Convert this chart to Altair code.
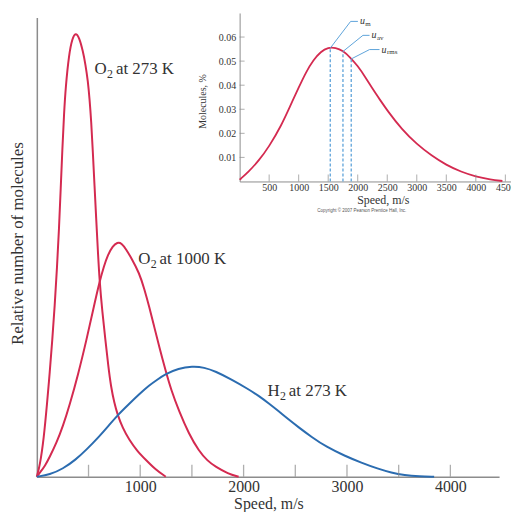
import altair as alt
import pandas as pd

FONT = "Liberation Serif"
RED = "#d42a50"
BLUE = "#2b6cb0"
LIGHT_BLUE = "#5ea3da"
AXIS_GRAY = "#8c8c8c"
TEXT = "#333333"

# ---------------- main chart data (speed m/s, relative number, arbitrary units)
O2_273_SPEED = [0, 29, 67, 100, 125, 150, 173, 195, 215, 231, 247, 263, 279, 311, 343,
                375, 410, 446, 470, 494, 510, 526, 542, 558, 574, 590, 606, 634, 663,
                690, 718, 750, 779, 830, 894, 970, 1054, 1150, 1247]
O2_273_VALUE = [0, 11, 38, 75, 105, 138, 172, 210, 250, 290, 330, 365, 392, 425, 441,
                447, 442, 428, 415, 398, 380, 358, 326, 293, 260, 228, 198, 165, 138,
                112, 90, 74, 63, 49, 37, 26, 17, 7, 0]

O2_1000_SPEED = [0, 29, 80, 125, 190, 253, 317, 400, 481, 545, 606, 650, 686, 734, 779,
                 820, 862, 920, 990, 1040, 1087, 1135, 1183, 1247, 1300, 1375, 1471,
                 1567, 1650, 1728, 1850, 1952]
O2_1000_VALUE = [0, 4, 11, 20, 34, 51, 72, 103, 138, 168, 196, 212, 223, 232, 236,
                 235, 229, 219, 205, 189, 171, 151, 131, 106, 87, 66, 43,
                 26, 16, 10, 3, 0]

H2_273_SPEED = [0, 125, 253, 375, 478, 600, 700, 782, 880, 990, 1087, 1170, 1240, 1370,
                1503, 1620, 1728, 1880, 2048, 2150, 2240, 2337, 2430, 2529, 2657, 2800,
                2978, 3140, 3298, 3430, 3555, 3700, 3843]
H2_273_VALUE = [0, 2, 8, 17, 27, 40, 52, 62, 72, 83, 92, 98, 103, 109,
                111, 110, 106, 98, 88, 81, 74, 66, 58, 50, 40, 30,
                21, 14, 8, 4, 1.5, 0.4, 0]

SERIES = ["O2 at 273 K", "O2 at 1000 K", "H2 at 273 K"]
MAIN_TICKS = [500, 1000, 1500, 2000, 2500, 3000, 3500, 4000]
MAIN_LABELS = [1000, 2000, 3000, 4000]

# curve labels: base letter, subscript, remainder, anchor (speed, value)
LABEL_BASE = ["O", "O", "H"]
LABEL_SUB = ["2", "2", "2"]
LABEL_REST = ["at 273 K", "at 1000 K", "at 273 K"]
LABEL_SPEED = [558, 981, 2231]
LABEL_VALUE = [410, 219, 86]

# ---------------- inset data (H2 at 273 K, speed m/s, molecules %)
INSET_SPEED = [0, 150, 320, 500, 712, 850, 1000, 1125, 1250, 1375, 1500, 1625, 1750,
               1875, 2000, 2125, 2250, 2375, 2500, 2750, 3000, 3250, 3500, 3750, 4000,
               4250, 4450]
INSET_PCT = [0.0007, 0.0040, 0.0085, 0.0145, 0.0235, 0.0310, 0.0390, 0.0455, 0.0505,
             0.0540, 0.0557, 0.0556, 0.0543, 0.0515, 0.0480, 0.0435, 0.0385, 0.0340,
             0.0295, 0.0215, 0.0155, 0.0107, 0.0068, 0.0040, 0.0020, 0.0008, 0.0002]
INSET_XTICKS = [500, 1000, 1500, 2000, 2500, 3000, 3500, 4000, 4500]
INSET_YTICKS = [0.01, 0.02, 0.03, 0.04, 0.05, 0.06]

U_NAMES = ["m", "av", "rms"]
U_SPEED = [1535, 1750, 1890]
U_TOP = [0.0554, 0.0540, 0.0509]
# leader lines: start (on curve) -> elbow -> end
LEAD_SPEED = [[1535, 1880, 2003], [1750, 2088, 2200], [1890, 2200, 2369]]
LEAD_PCT = [[0.0554, 0.0665, 0.0665], [0.0540, 0.0607, 0.0607], [0.0509, 0.0548, 0.0548]]

COPYRIGHT = "Copyright \u00a9 2007 Pearson Prentice Hall, Inc."

# ---------------- frames
rows = []
for name, sp, val in [(SERIES[0], O2_273_SPEED, O2_273_VALUE),
                      (SERIES[1], O2_1000_SPEED, O2_1000_VALUE),
                      (SERIES[2], H2_273_SPEED, H2_273_VALUE)]:
    for s, v in zip(sp, val):
        rows.append({"series": name, "speed": s, "rel": v})
main_df = pd.DataFrame(rows)
main_tick_df = pd.DataFrame({"speed": MAIN_TICKS, "rel": [0] * len(MAIN_TICKS)})
lab_df = pd.DataFrame({"speed": LABEL_SPEED, "rel": LABEL_VALUE, "base": LABEL_BASE,
                       "sub": LABEL_SUB, "rest": LABEL_REST})

inset_df = pd.DataFrame({"speed": INSET_SPEED, "pct": INSET_PCT})
ixt_df = pd.DataFrame({"speed": INSET_XTICKS, "pct": [0] * len(INSET_XTICKS)})
iyt_df = pd.DataFrame({"speed": [0] * len(INSET_YTICKS), "pct": INSET_YTICKS})
u_df = pd.DataFrame({"name": U_NAMES, "speed": U_SPEED, "pct": [0] * 3, "top": U_TOP})
lead_rows = []
for n, ss, pp in zip(U_NAMES, LEAD_SPEED, LEAD_PCT):
    for i, (s, p) in enumerate(zip(ss, pp)):
        lead_rows.append({"name": n, "step": i, "speed": s, "pct": p})
lead_df = pd.DataFrame(lead_rows)
u_lab_df = pd.DataFrame({"name": U_NAMES, "speed": [l[-1] for l in LEAD_SPEED],
                         "pct": [l[-1] for l in LEAD_PCT]})
copy_df = pd.DataFrame({"speed": [2070], "pct": [-0.0124], "t": [COPYRIGHT]})

W, H = 465, 462

main_x = alt.X("speed:Q", scale=alt.Scale(domain=[0, 4471], nice=False),
               axis=alt.Axis(values=MAIN_LABELS, format="d", title="Speed, m/s",
                             ticks=False, tickSize=0, grid=False, labelPadding=9.5,
                             labelBaseline="middle", labelFont=FONT, labelFontSize=16,
                             labelColor=TEXT, labelOverlap=False, labelFlush=False,
                             domainColor=AXIS_GRAY, domainWidth=1.5,
                             titleFont=FONT, titleFontSize=16, titleFontWeight="normal",
                             titleColor=TEXT, titleX=233, titleY=26.5,
                             titleBaseline="middle", titleAlign="center"))
main_y = alt.Y("rel:Q", scale=alt.Scale(domain=[0, 462], nice=False),
               axis=alt.Axis(title="Relative number of molecules", ticks=False,
                             labels=False, grid=False, domainColor=AXIS_GRAY,
                             domainWidth=1.5, titleFont=FONT, titleFontSize=17,
                             titleFontWeight="normal", titleColor=TEXT, titleX=-19,
                             titleY=227, titleAngle=270, titleBaseline="middle",
                             titleAlign="center"))

curves = alt.Chart(main_df).mark_line(strokeWidth=2, interpolate="basis").encode(
    x=main_x, y=main_y,
    color=alt.Color("series:N", scale=alt.Scale(domain=SERIES, range=[RED, RED, BLUE]),
                    legend=None),
    detail="series:N", order="speed:Q")
main_ticks = alt.Chart(main_tick_df).mark_tick(
    orient="vertical", size=12, thickness=1.3, yOffset=-6, color=AXIS_GRAY
).encode(x=main_x, y=main_y)

txt = dict(font=FONT, color=TEXT, align="left", baseline="middle")
lab_base = alt.Chart(lab_df).mark_text(fontSize=17, **txt).encode(
    x=main_x, y=main_y, text="base:N")
lab_sub = alt.Chart(lab_df).mark_text(fontSize=12, dx=12.5, dy=5, **txt).encode(
    x=main_x, y=main_y, text="sub:N")
lab_rest = alt.Chart(lab_df).mark_text(fontSize=17, dx=21.5, **txt).encode(
    x=main_x, y=main_y, text="rest:N")

main_layer = alt.layer(curves, main_ticks, lab_base, lab_sub, lab_rest)

# ---------------- inset
ins_x = alt.X("speed:Q", scale=alt.Scale(domain=[0, 4700], range=[204, 483.2], nice=False),
              axis=alt.Axis(values=INSET_XTICKS, format="d", orient="bottom", offset=-297,
                            title="Speed, m/s", ticks=False, tickSize=0, grid=False,
                            labelPadding=6, labelBaseline="middle", labelFont=FONT,
                            labelFontSize=10, labelColor=TEXT, labelOverlap=False,
                            labelFlush=False, domainColor=AXIS_GRAY, domainWidth=1,
                            titleFont=FONT, titleFontSize=12, titleFontWeight="normal",
                            titleColor=TEXT, titleX=348, titleY=18.5,
                            titleBaseline="middle", titleAlign="center"))
ins_y = alt.Y("pct:Q", scale=alt.Scale(domain=[0, 0.07], range=[165, -4.5], nice=False),
              axis=alt.Axis(values=INSET_YTICKS, format=".2f", orient="left", offset=-204,
                            title="Molecules, %", ticks=False, tickSize=0, grid=False,
                            labelPadding=4, labelBaseline="middle", labelFont=FONT,
                            labelFontSize=10, labelColor=TEXT, labelOverlap=False,
                            labelFlush=False, domainColor=AXIS_GRAY, domainWidth=1,
                            titleFont=FONT, titleFontSize=10, titleFontWeight="normal",
                            titleColor=TEXT, titleX=-37, titleY=84, titleAngle=270,
                            titleBaseline="middle", titleAlign="center"))

ins_curve = alt.Chart(inset_df).mark_line(strokeWidth=1.8, color=RED,
                                          interpolate="basis").encode(
    x=ins_x, y=ins_y, order="speed:Q")
ins_xt = alt.Chart(ixt_df).mark_tick(orient="vertical", size=7, thickness=1,
                                     yOffset=-3.5, color=AXIS_GRAY).encode(x=ins_x, y=ins_y)
ins_yt = alt.Chart(iyt_df).mark_tick(orient="horizontal", size=5, thickness=1,
                                     xOffset=2.5, color=AXIS_GRAY).encode(x=ins_x, y=ins_y)
ins_dash = alt.Chart(u_df).mark_rule(color=LIGHT_BLUE, strokeWidth=1.3,
                                     strokeDash=[3, 2]).encode(
    x=ins_x, y=ins_y, y2="top:Q")
ins_lead = alt.Chart(lead_df).mark_line(color=LIGHT_BLUE, strokeWidth=1).encode(
    x=ins_x, y=ins_y, detail="name:N", order="step:Q")
ins_u = alt.Chart(u_lab_df).mark_text(font=FONT, fontSize=10, fontStyle="italic",
                                      color=TEXT, align="left", baseline="middle",
                                      dx=2).encode(x=ins_x, y=ins_y, text=alt.value("u"))
ins_usub = alt.Chart(u_lab_df).mark_text(font=FONT, fontSize=7, color=TEXT, align="left",
                                         baseline="middle", dx=7.5, dy=2.5).encode(
    x=ins_x, y=ins_y, text="name:N")
ins_copy = alt.Chart(copy_df).mark_text(font="Liberation Sans", fontSize=4.5, color="#555555",
                                        align="center", baseline="middle").encode(
    x=ins_x, y=ins_y, text="t:N")

inset_layer = alt.layer(ins_curve, ins_xt, ins_yt, ins_dash, ins_lead, ins_u, ins_usub,
                        ins_copy)

chart = alt.layer(main_layer, inset_layer).resolve_scale(
    x="independent", y="independent", color="independent"
).resolve_axis(x="independent", y="independent").properties(
    width=W, height=H,
    autosize=alt.AutoSizeParams(type="none"),
    padding={"left": 29, "top": 8, "right": 12, "bottom": 34},
    background="white",
).configure_view(stroke=None)

chart.save("out.html", embed_options={"renderer": "svg", "actions": False})
